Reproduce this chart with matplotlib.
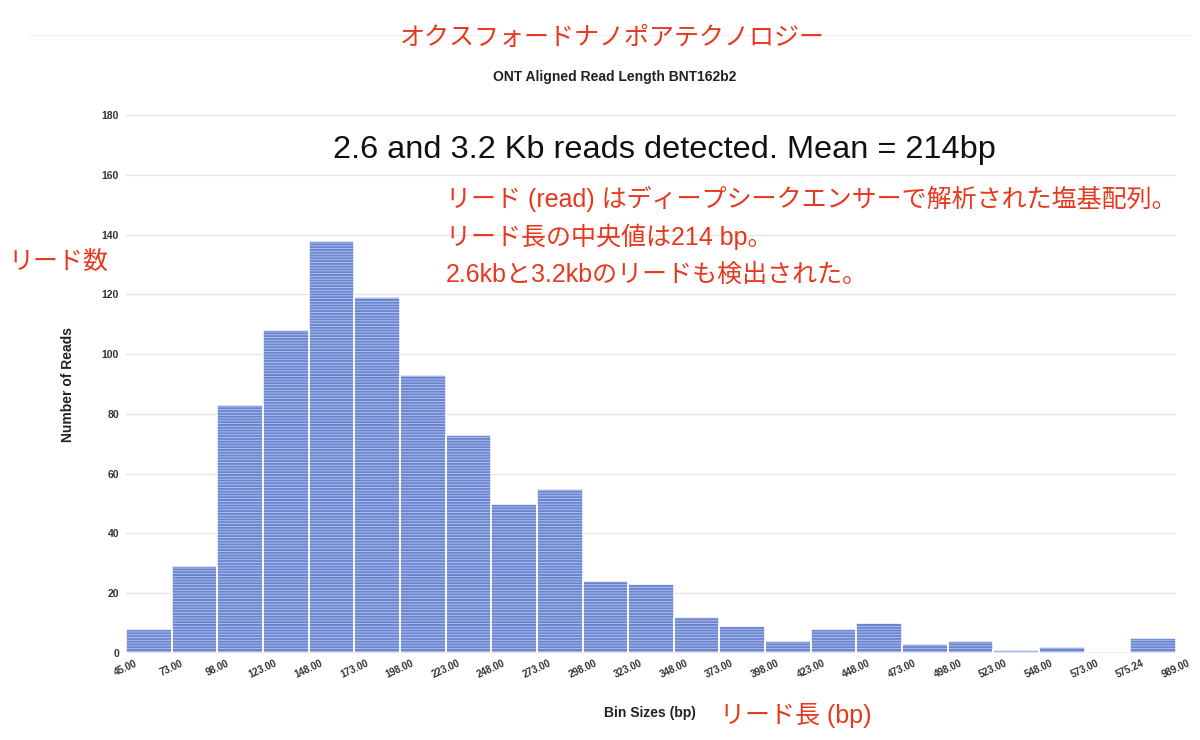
import numpy as np
import matplotlib
matplotlib.use("Agg")
import matplotlib.pyplot as plt
from matplotlib.lines import Line2D

# bin edges shown on the x axis and read counts per bin
bin_edges = ["45.00", "73.00", "98.00", "123.00", "148.00", "173.00", "198.00",
             "223.00", "248.00", "273.00", "298.00", "323.00", "348.00", "373.00",
             "398.00", "423.00", "448.00", "473.00", "498.00", "523.00", "548.00",
             "573.00", "575.24", "989.00"]
read_counts = [8, 29, 83, 108, 138, 119, 93, 73, 50, 55, 24, 23, 12, 9, 4, 8, 10,
               3, 4, 1, 2, 0, 5]
y_ticks = [0, 20, 40, 60, 80, 100, 120, 140, 160, 180]

RED = "#e5391f"
BLUE = "#6a84cf"
JP = ["Liberation Sans", "Noto Sans CJK JP", "DejaVu Sans"]
LAT = ["Liberation Sans", "DejaVu Sans"]

plt.rcParams["hatch.linewidth"] = 0.6
plt.rcParams["hatch.color"] = "#b8c6ee"

fig = plt.figure(figsize=(12, 7.4), dpi=100)
ax = fig.add_axes([126 / 1200, 1 - 653 / 740, (1176 - 126) / 1200, (653 - 115) / 740])

pos = np.arange(len(read_counts))
ax.axhline(0, color="#b5b5b5", lw=1.2, zorder=1)
ax.bar(pos, read_counts, width=1, align="edge", color=BLUE, hatch="------",
       edgecolor="#b8c6ee", linewidth=0, zorder=2)
ax.bar(pos, read_counts, width=1, align="edge", fill=False,
       edgecolor="white", linewidth=1.1, zorder=3)

ax.set_xlim(0, len(read_counts))
ax.set_ylim(0, 180)
ax.set_yticks(y_ticks)
ax.set_yticklabels([str(v) for v in y_ticks], fontsize=7.5, fontweight="bold",
                   color="#333333", family=LAT)
ax.set_xticks(np.arange(len(bin_edges)))
ax.set_xticklabels(bin_edges, rotation=25, fontsize=7, fontweight="bold",
                   color="#333333", family=LAT, ha="center")
ax.tick_params(axis="both", length=0)
ax.tick_params(axis="y", pad=5)
ax.tick_params(axis="x", pad=4)
ax.grid(axis="y", color="#e6e6e6", lw=1)
ax.set_axisbelow(True)
for s in ax.spines.values():
    s.set_visible(False)

fig.add_artist(Line2D([30 / 1200, 1190 / 1200], [1 - 35 / 740] * 2,
                      color="#f0f0f0", lw=1))

fig.text(612 / 1200, 1 - 38 / 740, "オクスフォードナノポアテクノロジー",
         color=RED, fontsize=18, family=JP, ha="center", va="center")
fig.text(615 / 1200, 1 - 77 / 740, "ONT Aligned Read Length BNT162b2",
         fontsize=10, fontweight="bold", color="#222222", family=LAT,
         ha="center", va="center")
fig.text(664 / 1200, 1 - 150 / 740, "2.6 and 3.2 Kb reads detected. Mean = 214bp",
         fontsize=23.4, color="#111111", family=LAT, ha="center", va="center")

jp_lines = ["リード (read) はディープシークエンサーで解析された塩基配列。",
            "リード長の中央値は214 bp。",
            "2.6kbと3.2kbのリードも検出された。"]
for i, line in enumerate(jp_lines):
    fig.text(446 / 1200, 1 - (199 + i * 38) / 740, line, color=RED,
             fontsize=18, family=JP, ha="left", va="center")

fig.text(8 / 1200, 1 - 262 / 740, "リード数", color=RED, fontsize=18,
         family=JP, ha="left", va="center")
fig.text(68 / 1200, 1 - 385 / 740, "Number of Reads", rotation=90,
         fontsize=10, fontweight="bold", color="#222222", family=LAT,
         ha="center", va="center")
fig.text(650 / 1200, 1 - 713 / 740, "Bin Sizes (bp)", fontsize=10,
         fontweight="bold", color="#222222", family=LAT, ha="center", va="center")
fig.text(720 / 1200, 1 - 715 / 740, "リード長 (bp)", color=RED, fontsize=18,
         family=JP, ha="left", va="center")

fig.savefig("out.png", dpi=100, facecolor="white")
